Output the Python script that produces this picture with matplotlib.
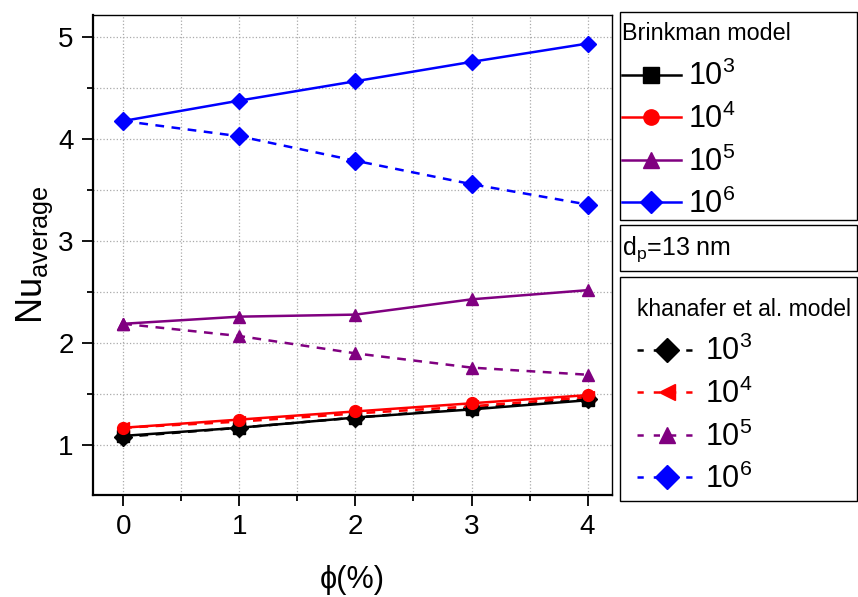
import numpy as np
import matplotlib
matplotlib.use("Agg")
import matplotlib.pyplot as plt
from matplotlib.lines import Line2D
from matplotlib.patches import Rectangle
from matplotlib.ticker import MultipleLocator

plt.rcParams['font.family'] = ['Liberation Sans', 'DejaVu Sans']
plt.rcParams['mathtext.fontset'] = 'custom'
plt.rcParams['mathtext.rm'] = 'Liberation Sans'
plt.rcParams['mathtext.it'] = 'Liberation Sans:italic'

# volume fraction (%)
phi = [0, 1, 2, 3, 4]
ra_labels = ['$10^3$', '$10^4$', '$10^5$', '$10^6$']

# Brinkman model
brink_1e3 = [1.09, 1.17, 1.27, 1.35, 1.44]
brink_1e4 = [1.17, 1.25, 1.33, 1.41, 1.49]
brink_1e5 = [2.19, 2.26, 2.28, 2.43, 2.52]
brink_1e6 = [4.18, 4.38, 4.57, 4.76, 4.94]

# khanafer et al. model
khan_1e3 = [1.08, 1.17, 1.27, 1.36, 1.45]
khan_1e4 = [1.17, 1.23, 1.31, 1.38, 1.47]
khan_1e5 = [2.19, 2.07, 1.90, 1.76, 1.69]
khan_1e6 = [4.18, 4.03, 3.79, 3.56, 3.36]

colors = ['black', 'red', '#800080', 'blue']
brink_markers = ['s', 'o', '^', 'D']
khan_markers = ['D', '<', '^', 'D']

W, H = 858, 597
fig = plt.figure(figsize=(W/100, H/100), dpi=100)
ax = fig.add_axes([93/W, 1-495/H, (612-93)/W, (495-15)/H])

brink = [brink_1e3, brink_1e4, brink_1e5, brink_1e6]
khan = [khan_1e3, khan_1e4, khan_1e5, khan_1e6]

brink_handles = []
khan_handles = []
for i in range(4):
    ax.plot(phi, khan[i], ls=(0, (3.5, 3)), color=colors[i], lw=1.8,
            marker=khan_markers[i], ms=9, zorder=3)
for i in range(4):
    ax.plot(phi, brink[i], ls='-', color=colors[i], lw=1.8,
            marker=brink_markers[i], ms=8.5, zorder=4)
    brink_handles.append(Line2D([], [], color=colors[i], lw=1.8,
                                marker=brink_markers[i], ms=11))
    khan_handles.append(Line2D([], [], color=colors[i], lw=1.8, ls=(0, (2.5, 4)),
                               marker=khan_markers[i], ms=12))

ax.set_xlim(-0.26, 4.21)
ax.set_ylim(0.51, 5.22)
ax.xaxis.set_major_locator(MultipleLocator(1))
ax.xaxis.set_minor_locator(MultipleLocator(0.5))
ax.yaxis.set_major_locator(MultipleLocator(1))
ax.yaxis.set_minor_locator(MultipleLocator(0.5))
ax.grid(True, which='both', ls=':', color='#aaaaaa', lw=0.9)
ax.set_axisbelow(True)
ax.tick_params(which='major', direction='out', length=8, width=1.3, labelsize=20,
               top=False, right=False, pad=6)
ax.tick_params(which='minor', direction='out', length=4, width=1.3,
               top=False, right=False)
for s in ['left', 'bottom']:
    ax.spines[s].set_linewidth(1.6)
for s in ['top', 'right']:
    ax.spines[s].set_linewidth(1.0)

ax.set_ylabel(r'$\mathrm{Nu}_{\mathrm{average}}$', fontsize=26, labelpad=2)
ax.set_xlabel('ϕ(%)', fontsize=22, labelpad=18)


def box(top, bottom):
    fig.add_artist(Rectangle((620/W, 1-bottom/H), 237/W, (bottom-top)/H,
                             transform=fig.transFigure, fill=False,
                             edgecolor='black', lw=1.0))


# Brinkman legend box
box(12, 220)
fig.text(622/W, 1-34/H, 'Brinkman model', fontsize=16.8, va='center', ha='left')
fig.legend(brink_handles, ra_labels, loc='upper left',
           bbox_to_anchor=(622/W, 1-61/H), fontsize=22, frameon=False,
           handlelength=1.93, handletextpad=0.23, labelspacing=0.37,
           borderpad=0, borderaxespad=0)

# particle diameter box
box(225, 271)
fig.text(622/W, 1-249/H, '$\\mathrm{d}_{\\mathrm{p}}$=13 nm', fontsize=18,
         va='center', ha='left')

# khanafer legend box
box(277, 501)
fig.text(637/W, 1-309/H, 'khanafer et al. model', fontsize=16.5, va='center', ha='left')
fig.legend(khan_handles, ra_labels, loc='upper left',
           bbox_to_anchor=(637/W, 1-336/H), fontsize=22, frameon=False,
           handlelength=1.97, handletextpad=0.26, labelspacing=0.37,
           borderpad=0, borderaxespad=0)

fig.savefig('out.png', dpi=100)
